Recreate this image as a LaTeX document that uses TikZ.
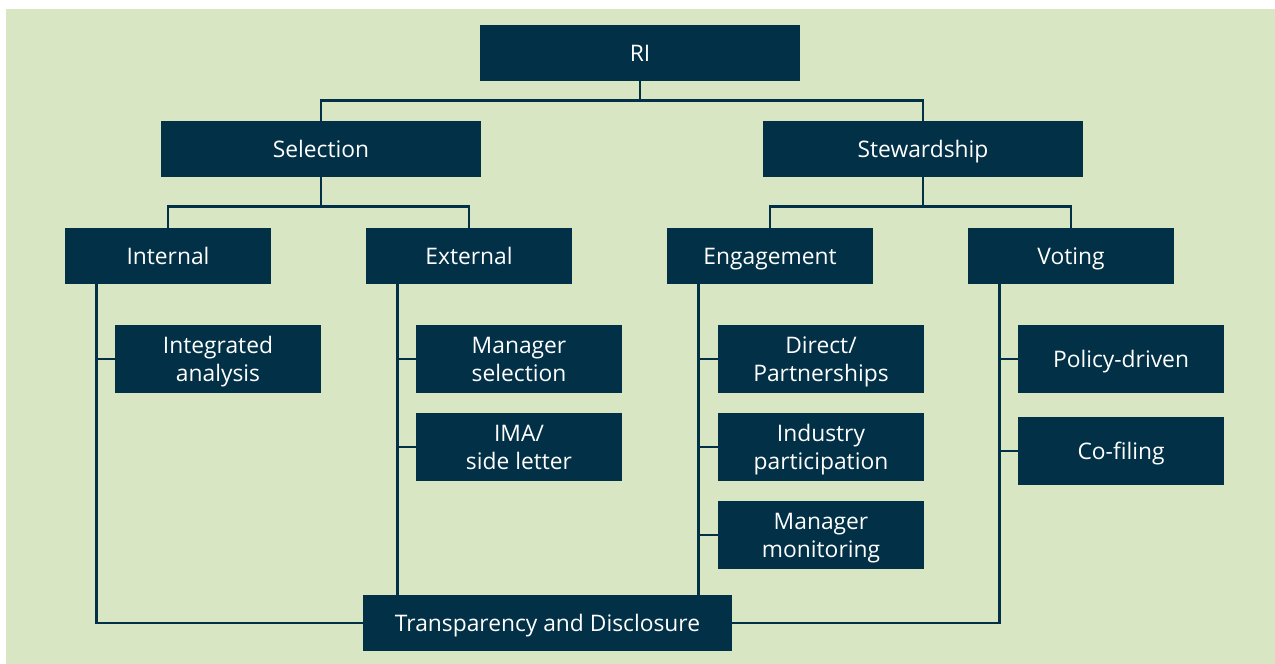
\documentclass[tikz,border=0pt]{standalone}
\usepackage{fontspec}
\setmainfont{Open Sans}
\usetikzlibrary{positioning}

\definecolor{navy}{RGB}{1,48,71}
\definecolor{sage}{RGB}{217,230,196}

\tikzset{
  box/.style = {fill=navy, text=white, inner sep=0pt, align=center,
                font=\fontsize{11.4}{14}\selectfont},
  wide/.style = {box, minimum width=160pt, minimum height=28pt, text height=1.9ex, text depth=0.3ex},
  mid/.style = {box, minimum width=103pt, minimum height=28pt, text height=1.9ex, text depth=0.3ex},
  leaf/.style = {box, minimum width=103pt, minimum height=34pt, text depth=0pt},
  link/.style = {navy, line width=1.2pt}
}

\begin{document}
\begin{tikzpicture} [x=0.5pt, y=-0.5pt]

	\useasboundingbox (0,0) rectangle (1275,664);
	\fill[sage] (6,9) rectangle (1275,664);

	% top levels
	\node[wide] (ri) at (640,53) {RI};
	\node[wide] (sel) at (321,149) {Selection};
	\node[wide] (stw) at (923,149) {Stewardship};

	\node[mid] (int) at (168,256) {Internal};
	\node[mid] (ext) at (469,256) {External};
	\node[mid] (eng) at (770,256) {Engagement};
	\node[mid] (vot) at (1071,256) {Voting};

	% leaves
	\node[leaf] (intg) at (218,359) {Integrated\\analysis};
	\node[leaf] (msel) at (519,359) {Manager\\selection};
	\node[leaf] (ima) at (519,447) {IMA/\\side letter};
	\node[leaf] (dir) at (821,359) {Direct/\\Partnerships};
	\node[leaf] (ind) at (821,447) {Industry\\participation};
	\node[leaf] (mmon) at (821,535) {Manager\\monitoring};
	\node[leaf] (pol) at (1121,359) {Policy-driven};
	\node[leaf] (cof) at (1121,451) {Co-filing};

	\node[box, minimum width=184.5pt, minimum height=28pt, text height=1.9ex, text depth=0.3ex] (td) at (547.5,623) {Transparency and Disclosure};

	% tree links
	\draw[link] (ri.south) -- ++(0,20);
	\draw[link] (sel.north) -- ++(0,-20) -| (stw.north);
	\draw[link] (sel.south) -- ++(0,30);
	\draw[link] (int.north) -- ++(0,-21) -| (ext.north);
	\draw[link] (stw.south) -- ++(0,30);
	\draw[link] (eng.north) -- ++(0,-21) -| (vot.north);

	% spines
	\coordinate (intl) at ([xshift=16pt]int.south west);
	\coordinate (extl) at ([xshift=16pt]ext.south west);
	\coordinate (engl) at ([xshift=16pt]eng.south west);
	\coordinate (votl) at ([xshift=16pt]vot.south west);

	\draw[link] (intl) |- (td.west);
	\draw[link] (extl) -- (extl |- td.north);
	\draw[link] (engl) -- (engl |- td.north);
	\draw[link] (votl) |- (td.east);

	\draw[link] (intg.west) -- (intg.west -| intl);
	\draw[link] (msel.west) -- (msel.west -| extl);
	\draw[link] (ima.west) -- (ima.west -| extl);
	\draw[link] (dir.west) -- (dir.west -| engl);
	\draw[link] (ind.west) -- (ind.west -| engl);
	\draw[link] (mmon.west) -- (mmon.west -| engl);
	\draw[link] (pol.west) -- (pol.west -| votl);
	\draw[link] (cof.west) -- (cof.west -| votl);

\end{tikzpicture}
\end{document}
